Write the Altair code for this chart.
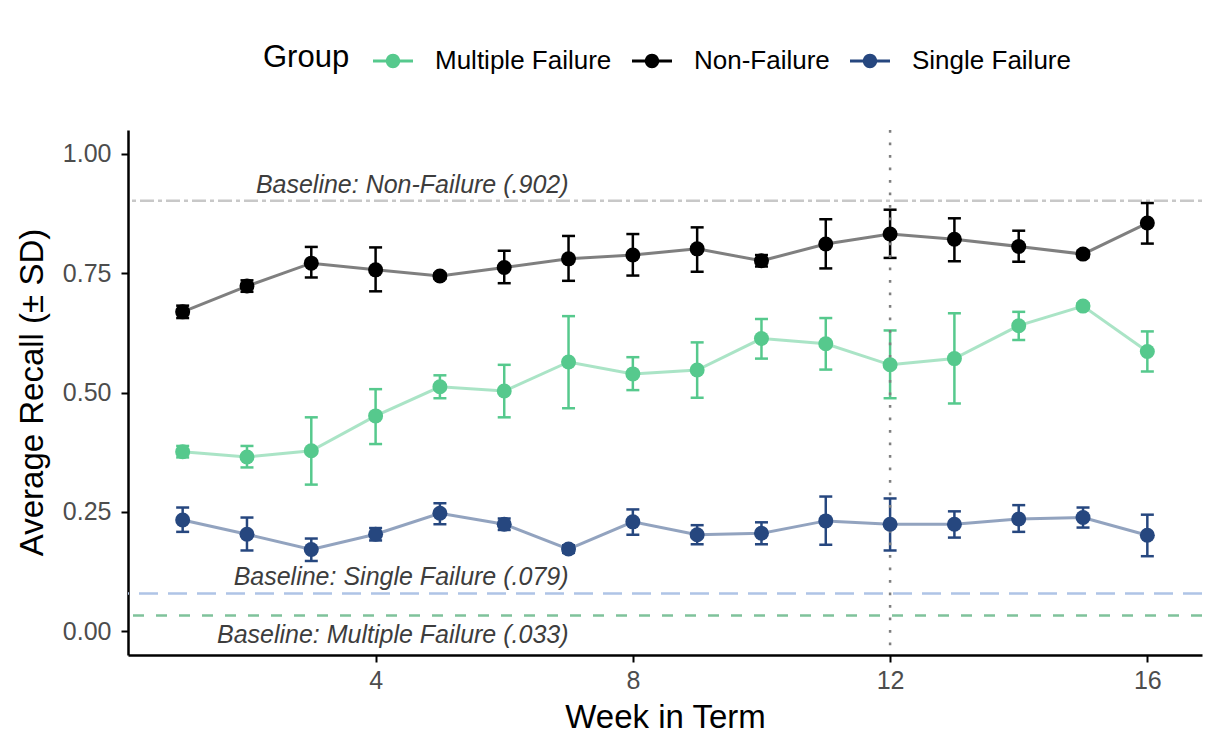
import altair as alt
import pandas as pd

FONT = "Liberation Sans"

weeks = [1, 2, 3, 4, 5, 6, 7, 8, 9, 10, 11, 12, 13, 14, 15, 16]
groups = ["Multiple Failure", "Non-Failure", "Single Failure"]
group_colors = ["#56C98D", "#000000", "#26477F"]

mf_mean = [0.376, 0.365, 0.378, 0.451, 0.512, 0.503, 0.564, 0.539, 0.547, 0.613, 0.602, 0.558, 0.571, 0.640, 0.681, 0.586]
mf_lo = [0.364, 0.343, 0.307, 0.392, 0.488, 0.448, 0.467, 0.505, 0.489, 0.571, 0.548, 0.488, 0.477, 0.610, 0.675, 0.544]
mf_hi = [0.388, 0.388, 0.448, 0.507, 0.536, 0.558, 0.660, 0.574, 0.605, 0.654, 0.656, 0.630, 0.666, 0.669, 0.687, 0.628]

nf_mean = [0.669, 0.723, 0.771, 0.757, 0.744, 0.762, 0.780, 0.788, 0.801, 0.776, 0.811, 0.832, 0.821, 0.806, 0.790, 0.855]
nf_lo = [0.656, 0.711, 0.741, 0.712, 0.738, 0.729, 0.734, 0.745, 0.753, 0.764, 0.760, 0.782, 0.775, 0.774, 0.783, 0.812]
nf_hi = [0.682, 0.735, 0.805, 0.804, 0.750, 0.797, 0.828, 0.832, 0.846, 0.788, 0.863, 0.883, 0.865, 0.839, 0.797, 0.897]

sf_mean = [0.233, 0.203, 0.171, 0.203, 0.247, 0.224, 0.172, 0.229, 0.202, 0.205, 0.231, 0.224, 0.224, 0.235, 0.238, 0.201]
sf_lo = [0.208, 0.169, 0.147, 0.190, 0.224, 0.212, 0.164, 0.202, 0.182, 0.182, 0.181, 0.169, 0.196, 0.208, 0.217, 0.157]
sf_hi = [0.259, 0.238, 0.194, 0.216, 0.268, 0.236, 0.180, 0.255, 0.222, 0.228, 0.282, 0.278, 0.251, 0.264, 0.259, 0.244]

baseline_values = [0.902, 0.079, 0.033]
baseline_texts = ["Baseline: Non-Failure (.902)", "Baseline: Single Failure (.079)", "Baseline: Multiple Failure (.033)"]
baseline_label_x = [7, 7, 7]
baseline_label_y = [0.918, 0.0964, -0.0258]
baseline_colors = ["#c8c8c8", "#afc4e6", "#7fc29b"]
baseline_dashes = [[4, 4, 14, 4], [19, 10], [11, 12]]

vline_x = [12]

rows = []
for g, m, lo, hi in [("Multiple Failure", mf_mean, mf_lo, mf_hi),
                     ("Non-Failure", nf_mean, nf_lo, nf_hi),
                     ("Single Failure", sf_mean, sf_lo, sf_hi)]:
    for w, a, b, c in zip(weeks, m, lo, hi):
        rows.append({"week": w, "group": g, "mean": a, "lo": b, "hi": c})
df = pd.DataFrame(rows)

xscale = alt.Scale(domain=[0.15, 16.85], nice=False, zero=False)
yscale = alt.Scale(domain=[-0.05, 1.05], nice=False, zero=False)
cscale = alt.Scale(domain=groups, range=group_colors)
# same mapping, listed in another order so these scales keep their own (hidden) legends
alt_scale = alt.Scale(domain=groups[::-1], range=group_colors[::-1])

x_axis = alt.Axis(values=[4, 8, 12, 16], format="d", title="Week in Term",
                  titleY=72, titleBaseline="alphabetic")
y_axis = alt.Axis(values=[0, 0.25, 0.5, 0.75, 1.0], format=".2f", title="Average Recall (± SD)",
                  labelPadding=10,
                  titleX=-86, titleY=262, titleAngle=270, titleBaseline="alphabetic", titleAlign="center")

X = alt.X("week:Q", scale=xscale, axis=x_axis)
Y = alt.Y("mean:Q", scale=yscale, axis=y_axis)

legend_path = ("M-1,-0.07 L1,-0.07 L1,0.07 L-1,0.07 Z "
               "M-0.36,0 A0.36,0.36 0 1,1 0.36,0 A0.36,0.36 0 1,1 -0.36,0 Z")

layers = []
for val, col, dash in zip(baseline_values, baseline_colors, baseline_dashes):
    bdf = pd.DataFrame({"y": [val]})
    layers.append(alt.Chart(bdf).mark_rule(color=col, strokeWidth=2.5, strokeDash=dash).encode(
        y=alt.Y("y:Q", scale=yscale, axis=y_axis)))

lab_df = pd.DataFrame({"x": baseline_label_x, "y": baseline_label_y, "t": baseline_texts})
layers.append(alt.Chart(lab_df).mark_text(font=FONT, fontSize=25, fontStyle="italic", color="#3d3d3d",
                                          align="right", baseline="alphabetic").encode(
    x=alt.X("x:Q", scale=xscale, axis=x_axis), y=alt.Y("y:Q", scale=yscale, axis=y_axis), text="t:N"))

stroke_enc = alt.Stroke("group:N", scale=alt_scale, legend=None)
fill_enc = alt.Fill("group:N", scale=alt_scale, legend=None)

base = alt.Chart(df)
layers.append(base.mark_line(strokeWidth=3, opacity=0.5).encode(
    x=X, y=Y, stroke=stroke_enc, detail="group:N"))
layers.append(base.mark_rule(strokeWidth=2.5).encode(
    x=X, y=alt.Y("lo:Q", scale=yscale, axis=y_axis), y2="hi:Q", stroke=stroke_enc))
layers.append(base.mark_tick(orient="horizontal", size=13, thickness=2.5, opacity=1, filled=True).encode(
    x=X, y=alt.Y("lo:Q", scale=yscale, axis=y_axis), fill=fill_enc))
layers.append(base.mark_tick(orient="horizontal", size=13, thickness=2.5, opacity=1, filled=True).encode(
    x=X, y=alt.Y("hi:Q", scale=yscale, axis=y_axis), fill=fill_enc))

vdf = pd.DataFrame({"x": vline_x})
layers.append(alt.Chart(vdf).mark_rule(color="#7f7f7f", strokeWidth=2.5, strokeDash=[2.7, 9.8]).encode(
    x=alt.X("x:Q", scale=xscale, axis=x_axis)))

layers.append(base.mark_circle(size=225, opacity=1).encode(
    x=X, y=Y,
    color=alt.Color("group:N", scale=cscale, legend=alt.Legend(
        title="Group", orient="none", direction="horizontal", legendX=135, legendY=-89,
        titleOrient="left", titleFontSize=31, titleFont=FONT, titleColor="black", titleFontWeight="normal",
        titlePadding=23, labelFont=FONT, labelFontSize=26, labelColor="black", labelOffset=22,
        labelLimit=0, columnPadding=20, symbolType=legend_path, symbolSize=1600, symbolStrokeWidth=0,
        symbolOpacity=1))))

chart = alt.layer(*layers).properties(
    width=1074, height=525,
    padding={"left": 128, "top": 130, "right": 16, "bottom": 98},
    autosize=alt.AutoSizeParams(type="none"),
).configure_view(stroke=None).configure_axis(
    grid=False, domainColor="black", domainWidth=2.5, tickColor="black", tickWidth=2, tickSize=7,
    labelFont=FONT, labelFontSize=25, labelColor="#4d4d4d", labelPadding=6,
    titleFont=FONT, titleFontSize=33, titleColor="black", titleFontWeight="normal",
)

chart.save("out.html", embed_options={"renderer": "svg", "actions": False})
